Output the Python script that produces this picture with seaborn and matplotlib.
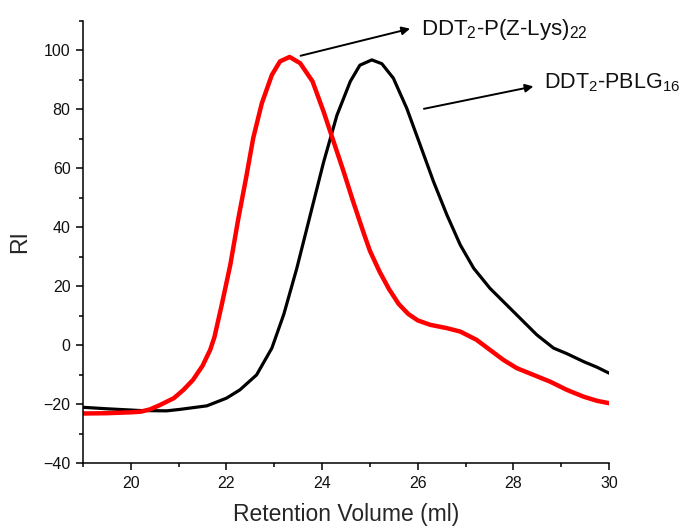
import matplotlib
matplotlib.use("Agg")
import matplotlib.pyplot as plt
import seaborn as sns
import pandas as pd
from matplotlib.ticker import MultipleLocator

# Data
red_x = [19.0, 19.5, 20.0, 20.2, 20.4, 20.6, 20.9, 21.1, 21.3, 21.5, 21.66, 21.75, 21.9, 22.08,
         22.25, 22.41, 22.56, 22.74, 22.95, 23.12, 23.32, 23.54, 23.8, 24.03, 24.24, 24.45,
         24.65, 24.86, 25.0, 25.2, 25.4, 25.6, 25.8, 26.0, 26.26, 26.6, 26.89, 27.23, 27.51,
         27.79, 28.07, 28.42, 28.77, 29.12, 29.47, 29.75, 30.0]
red_y = [-23.2, -23.1, -22.8, -22.6, -21.8, -20.4, -18.0, -15.2, -11.8, -7.0, -1.6, 2.8, 13.6, 27.2,
         43.1, 56.7, 70.3, 82.1, 91.7, 96.3, 97.8, 95.7, 89.5, 79.3, 69.1, 58.9,
         48.7, 38.5, 32.0, 25.0, 19.0, 14.0, 10.6, 8.4, 6.9, 5.8, 4.6, 1.8, -1.6,
         -5.0, -7.8, -10.1, -12.4, -15.2, -17.5, -18.9, -19.7]
black_x = [19.0, 19.5, 20.2, 20.75, 21.03, 21.59, 22.0, 22.28, 22.63, 22.95, 23.2, 23.47, 23.75,
           24.03, 24.31, 24.59, 24.79, 25.04, 25.25, 25.49, 25.77, 26.05, 26.33, 26.61, 26.89,
           27.17, 27.51, 28.0, 28.49, 28.84, 29.12, 29.47, 29.75, 30.0]
black_y = [-21.1, -21.6, -22.2, -22.3, -21.8, -20.6, -18.0, -15.2, -10.1, -1.0, 10.5, 26.0, 44.0,
           62.0, 78.0, 89.5, 95.0, 96.8, 95.5, 90.6, 80.4, 68.0, 55.5, 44.2, 34.0,
           26.1, 19.3, 11.4, 3.5, -1.0, -2.9, -5.6, -7.5, -9.5]
label_red = "DDT$_2$-P(Z-Lys)$_{22}$"
label_black = "DDT$_2$-PBLG$_{16}$"
x_ticks = [20, 22, 24, 26, 28, 30]
y_ticks = [-40, -20, 0, 20, 40, 60, 80, 100]

sns.set_style("ticks")
plt.rcParams['font.family'] = ['Liberation Sans', 'DejaVu Sans']
plt.rcParams['mathtext.fontset'] = 'custom'
plt.rcParams['mathtext.rm'] = 'Liberation Sans'
plt.rcParams['mathtext.it'] = 'Liberation Sans'
plt.rcParams['mathtext.default'] = 'regular'

fig = plt.figure(figsize=(6.88, 5.29), dpi=100)
ax = fig.add_axes([83/688, 1 - 463/529, (609 - 83)/688, (463 - 21)/529])

df_black = pd.DataFrame({"x": black_x, "y": black_y})
df_red = pd.DataFrame({"x": red_x, "y": red_y})
sns.lineplot(data=df_black, x="x", y="y", ax=ax, color="black", lw=2.3, sort=False,
             solid_capstyle="round", solid_joinstyle="round")
sns.lineplot(data=df_red, x="x", y="y", ax=ax, color="#ff0000", lw=3.2, sort=False,
             solid_capstyle="round", solid_joinstyle="round")

ax.set_xlim(19, 30)
ax.set_ylim(-40, 110)
ax.set_xticks(x_ticks)
ax.set_yticks(y_ticks)
ax.xaxis.set_minor_locator(MultipleLocator(1))
ax.yaxis.set_minor_locator(MultipleLocator(10))
ax.tick_params(which="major", direction="out", length=5, width=1.1, labelsize=11.5, color="black",
               labelcolor="#111111", pad=4)
ax.tick_params(which="minor", direction="out", length=3, width=1.1, color="black")
for s in ["top", "right"]:
    ax.spines[s].set_visible(False)
for s in ["left", "bottom"]:
    ax.spines[s].set_linewidth(1.1)
    ax.spines[s].set_color("black")

ax.set_xlabel("Retention Volume (ml)", fontsize=16.5, labelpad=9)
ax.set_ylabel("RI", fontsize=16.5, labelpad=9)

arrow = dict(arrowstyle="-|>", lw=1.4, color="black", mutation_scale=12, shrinkA=0, shrinkB=0)
ax.annotate("", xy=(25.84, 107.4), xytext=(23.55, 98.2), arrowprops=arrow, annotation_clip=False)
ax.annotate("", xy=(28.42, 87.8), xytext=(26.13, 80.2), arrowprops=arrow, annotation_clip=False)
ax.text(26.07, 105.3, label_red, fontsize=16, va="baseline", ha="left", clip_on=False, color="#111111")
ax.text(28.64, 87.2, label_black, fontsize=15.5, va="baseline", ha="left", clip_on=False, color="#111111")

fig.savefig("out.png", dpi=100)
